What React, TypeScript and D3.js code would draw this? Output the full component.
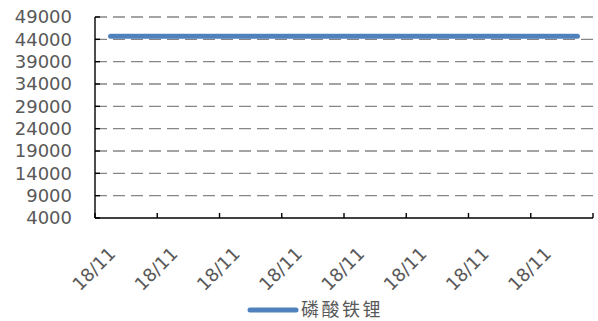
import React from "react";
import * as d3 from "d3";

const categories: string[] = [
  "18/11", "18/11", "18/11", "18/11", "18/11", "18/11", "18/11", "18/11",
  "18/11", "18/11", "18/11", "18/11", "18/11", "18/11", "18/11", "18/11",
];
const seriesName = "磷酸铁锂";
const values: number[] = [
  44700, 44700, 44700, 44700, 44700, 44700, 44700, 44700,
  44700, 44700, 44700, 44700, 44700, 44700, 44700, 44700,
];
const yTicks: number[] = [4000, 9000, 14000, 19000, 24000, 29000, 34000, 39000, 44000, 49000];

const W = 598;
const H = 321;
const left = 95;
const right = 593;
const top = 17;
const bottom = 218;

export default function App() {
  const idx = categories.map((_, i) => i);
  const x = d3.scaleBand<number>().domain(idx).range([left, right]).padding(0);
  const y = d3.scaleLinear().domain([4000, 49000]).range([bottom, top]);
  const bw = x.bandwidth();
  const line = d3
    .line<number>()
    .x((_, i) => (x(i) as number) + bw / 2)
    .y((d) => y(d));

  const tickIdx = idx.filter((i) => i % 2 === 0);
  const boundaries = [...tickIdx.map((i) => x(i) as number), right];

  const font = "'DejaVu Sans', sans-serif";
  const textColor = "#595959";

  return (
    <svg
      width={W}
      height={H}
      style={{ position: "absolute", left: 0, top: 0, background: "#fff" }}
    >
      {yTicks.filter((t) => t !== 4000).map((t) => (
        <line
          key={"g" + t}
          x1={left}
          x2={596}
          y1={y(t)}
          y2={y(t)}
          stroke="#868686"
          strokeWidth={1.3}
          strokeDasharray="12,6"
        />
      ))}
      <line x1={left} x2={left} y1={top} y2={bottom} stroke="#000" strokeWidth={1.4} />
      {yTicks.map((t) => (
        <line key={"yt" + t} x1={left} x2={left + 5} y1={y(t)} y2={y(t)} stroke="#000" strokeWidth={1.4} />
      ))}
      {yTicks.map((t) => (
        <text
          key={"yl" + t}
          x={72}
          y={y(t)}
          dy="0.36em"
          textAnchor="end"
          fontFamily={font}
          fontSize={18}
          fill={textColor}
        >
          {t}
        </text>
      ))}
      <line x1={left} x2={right} y1={bottom} y2={bottom} stroke="#000" strokeWidth={1.4} />
      {boundaries.map((b, i) => (
        <line key={"xt" + i} x1={b} x2={b} y1={bottom} y2={bottom - 5} stroke="#000" strokeWidth={1.4} />
      ))}
      {tickIdx.map((i) => {
        const cx = (x(i) as number) + bw / 2 + 6;
        const cy = 255;
        return (
          <text
            key={"xl" + i}
            x={cx}
            y={cy}
            textAnchor="end"
            transform={`rotate(-45, ${cx}, ${cy})`}
            fontFamily={font}
            fontSize={18}
            fill={textColor}
          >
            {categories[i]}
          </text>
        );
      })}
      <path
        d={line(values) || ""}
        fill="none"
        stroke="#4F81BD"
        strokeWidth={5}
        strokeLinecap="round"
      />
      <line x1={250} x2={296} y1={310} y2={310} stroke="#4F81BD" strokeWidth={5} strokeLinecap="round" />
      <text
        x={301}
        y={316}
        fontFamily="'Noto Sans CJK SC', sans-serif"
        fontSize={18}
        letterSpacing={2.5}
        fill={textColor}
      >
        {seriesName}
      </text>
    </svg>
  );
}
